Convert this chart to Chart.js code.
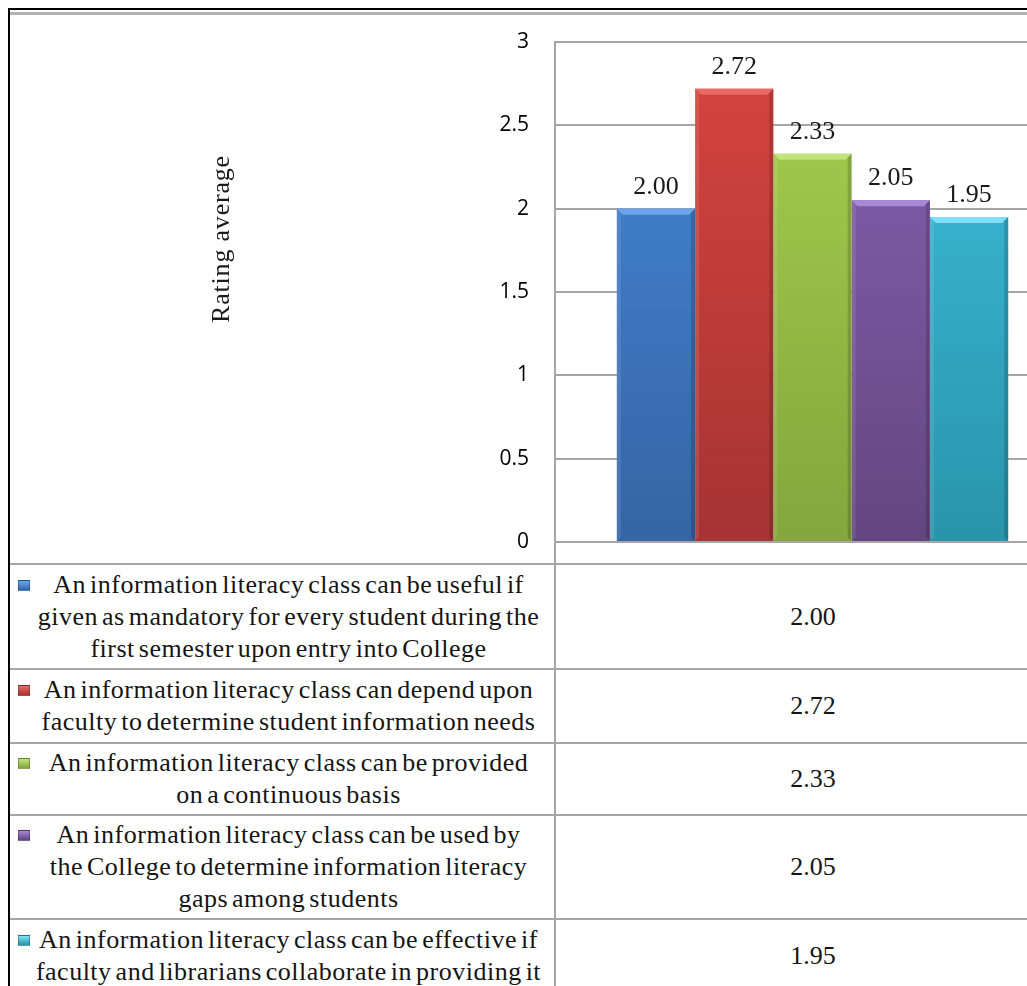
<!DOCTYPE html>
<html lang="en">
<head>
<meta charset="UTF-8">
<title>Information literacy class - rating average</title>
<script src="https://cdn.jsdelivr.net/npm/chart.js"></script>
<style>
  html, body { margin: 0; padding: 0; overflow: hidden; background: #fff; }
  .frame {
    position: absolute; left: 8px; top: 8px; width: 1100px; height: 1000px;
    border-left: 2px solid #000; border-top: 2px solid #000;
  }
  .rule { position: absolute; left: 0; top: 2px; width: 1100px; height: 3px; background: #b2b2b2; }
  #ratingChart { position: absolute; left: 0; top: 5px; }
  .legend-table {
    position: absolute; left: 0; top: 553px; width: 1060px;
    border-collapse: collapse; table-layout: fixed;
    font: 26px/32px "Liberation Serif", "Times New Roman", serif; color: #151515;
  }
  .legend-table td {
    border-top: 2px solid #a6a6a6; border-bottom: 2px solid #a6a6a6;
    padding: 0; vertical-align: middle; text-align: center;
  }
  .legend-table td.val { border-left: 2px solid #a6a6a6; }
  .stmt-text { position: relative; padding-left: 13px; letter-spacing: 0.5px; word-spacing: -3px; }
  .key {
    position: absolute; left: 8px; top: 11px; width: 12px; height: 11px;
    box-sizing: border-box; border: 1px solid rgba(0,0,0,0.25);
  }
</style>
</head>
<body>
<div class="frame">
  <div class="rule"></div>
  <canvas id="ratingChart" width="1075" height="548"></canvas>
  <table class="legend-table" id="legendTable">
    <colgroup><col style="width:545px"><col style="width:515px"></colgroup>
  </table>
</div>

<script>
  // Statements (wrapped the way they appear in the table) and their rating averages
  const statementLines = [
    ['An information literacy class can be useful if', 'given as mandatory for every student during the', 'first semester upon entry into College'],
    ['An information literacy class can depend upon', 'faculty to determine student information needs'],
    ['An information literacy class can be provided', 'on a continuous basis'],
    ['An information literacy class can be used by', 'the College to determine information literacy', 'gaps among students'],
    ['An information literacy class can be effective if', 'faculty and librarians collaborate in providing it']
  ];
  const ratings = [2.00, 2.72, 2.33, 2.05, 1.95];
  const yTickValues = [0, 0.5, 1, 1.5, 2, 2.5, 3];
  const axisTitle = 'Rating average';

  const serif = '"Liberation Serif", "Times New Roman", serif';

  // bar shading: top highlight, body top, body bottom
  const palette = [
    { hi: '#6aa6ee', top: '#4488da', bottom: '#3664a4' },
    { hi: '#e86a66', top: '#d8443f', bottom: '#a53433' },
    { hi: '#c2e27a', top: '#a6d04e', bottom: '#84a63c' },
    { hi: '#a788d6', top: '#8763b4', bottom: '#634680' },
    { hi: '#7ee0f6', top: '#3dc0e0', bottom: '#2994aa' }
  ];
  const rowHeights = [105, 74, 72, 104, 74];

  function barFill(i) {
    return (ctx) => {
      const area = ctx.chart.chartArea;
      if (!area) return palette[i].top;
      const g = ctx.chart.ctx.createLinearGradient(0, area.top, 0, area.bottom);
      g.addColorStop(0, palette[i].top);
      g.addColorStop(1, palette[i].bottom);
      return g;
    };
  }

  // bevelled edges on each bar
  const bevelPlugin = {
    id: 'bevel',
    afterDatasetsDraw(chart) {
      const ctx = chart.ctx;
      chart.data.datasets.forEach((ds, i) => {
        const el = chart.getDatasetMeta(i).data[0];
        const { x, y, base, width } = el.getProps(['x', 'y', 'base', 'width'], true);
        const l = x - width / 2, r = x + width / 2, b = 6;
        ctx.save();
        ctx.fillStyle = palette[i].hi;
        ctx.beginPath();
        ctx.moveTo(l, y); ctx.lineTo(r, y); ctx.lineTo(r - b, y + b); ctx.lineTo(l + b, y + b);
        ctx.closePath(); ctx.fill();
        ctx.fillStyle = 'rgba(0,0,0,0.16)';
        ctx.beginPath();
        ctx.moveTo(r, y); ctx.lineTo(r, base); ctx.lineTo(r - 4, base - 4); ctx.lineTo(r - 4, y + 4);
        ctx.closePath(); ctx.fill();
        ctx.fillStyle = 'rgba(255,255,255,0.10)';
        ctx.beginPath();
        ctx.moveTo(l, y); ctx.lineTo(l, base); ctx.lineTo(l + 4, base - 4); ctx.lineTo(l + 4, y + 4);
        ctx.closePath(); ctx.fill();
        ctx.restore();
      });
    }
  };

  // value printed above each bar
  const valueLabels = {
    id: 'valueLabels',
    afterDatasetsDraw(chart) {
      const ctx = chart.ctx;
      ctx.save();
      ctx.font = '26px ' + serif;
      ctx.fillStyle = '#1a1a1a';
      ctx.textAlign = 'center';
      ctx.textBaseline = 'alphabetic';
      chart.data.datasets.forEach((ds, i) => {
        const el = chart.getDatasetMeta(i).data[0];
        ctx.fillText(ds.data[0].toFixed(2), el.x, el.y - 15);
      });
      ctx.restore();
    }
  };

  // axis title sits above the middle of the axis, and the axis line runs on into the table
  const axisExtras = {
    id: 'axisExtras',
    afterDraw(chart) {
      const ctx = chart.ctx;
      const area = chart.chartArea;
      ctx.save();
      ctx.strokeStyle = '#a6a6a6';
      ctx.lineWidth = 2;
      ctx.beginPath();
      ctx.moveTo(area.left, area.bottom);
      ctx.lineTo(area.left, chart.height);
      ctx.stroke();

      ctx.translate(area.left - 333, area.top + 197);
      ctx.rotate(-Math.PI / 2);
      ctx.font = '26px ' + serif;
      ctx.letterSpacing = '0.8px';
      ctx.fillStyle = '#1a1a1a';
      ctx.textAlign = 'center';
      ctx.textBaseline = 'middle';
      ctx.fillText(axisTitle, 0, 0);
      ctx.restore();
    }
  };

  new Chart(document.getElementById('ratingChart'), {
    type: 'bar',
    data: {
      labels: [''],
      datasets: statementLines.map((lines, i) => ({
        label: lines.join(' '),
        data: [ratings[i]],
        backgroundColor: barFill(i),
        borderWidth: 0,
        barPercentage: 1.0,
        categoryPercentage: 0.76
      }))
    },
    options: {
      responsive: false,
      animation: false,
      layout: { padding: { top: 27, bottom: 21, right: 15, left: 0 } },
      plugins: { legend: { display: false }, tooltip: { enabled: false } },
      scales: {
        x: { display: false },
        y: {
          min: 0, max: 3,
          afterBuildTicks: (s) => { s.ticks = yTickValues.map(v => ({ value: v })); },
          afterFit: (s) => { s.width = 545; },
          // invisible tick marks keep the labels clear of the axis
          grid: { color: '#a6a6a6', lineWidth: 2, drawTicks: true, tickLength: 24, tickColor: 'rgba(0,0,0,0)' },
          border: { display: true, color: '#a6a6a6', width: 2 },
          ticks: {
            padding: 2,
            color: '#000',
            font: { family: '"Open Sans", sans-serif', size: 21 },
            callback: (v) => String(v)
          }
        }
      }
    },
    plugins: [bevelPlugin, valueLabels, axisExtras]
  });

  // table of statements with their ratings
  const table = document.getElementById('legendTable');
  statementLines.forEach((lines, i) => {
    const tr = document.createElement('tr');
    tr.style.height = rowHeights[i] + 'px';
    const stmt = document.createElement('td');
    const text = document.createElement('div');
    text.className = 'stmt-text';
    const key = document.createElement('span');
    key.className = 'key';
    key.style.background = `linear-gradient(${palette[i].hi}, ${palette[i].bottom})`;
    text.appendChild(key);
    lines.forEach((line, j) => {
      if (j > 0) text.appendChild(document.createElement('br'));
      text.appendChild(document.createTextNode(line));
    });
    stmt.appendChild(text);
    const val = document.createElement('td');
    val.className = 'val';
    val.textContent = ratings[i].toFixed(2);
    tr.appendChild(stmt);
    tr.appendChild(val);
    table.appendChild(tr);
  });
</script>
</body>
</html>
